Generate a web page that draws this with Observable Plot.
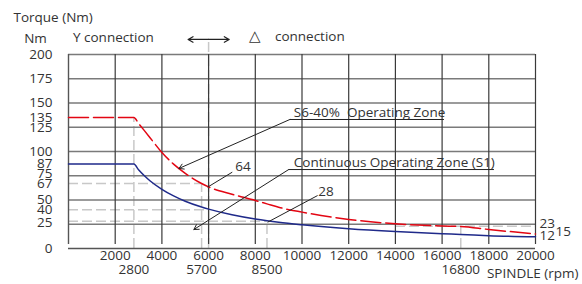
<!DOCTYPE html>
<html>
<head>
<meta charset="utf-8">
<script src="https://cdn.jsdelivr.net/npm/d3@7"></script>
<script src="https://cdn.jsdelivr.net/npm/@observablehq/plot@0.6"></script>
<style>
  html, body { margin: 0; padding: 0; background: #fff; }
  #chart svg { display: block; }
</style>
</head>
<body>
<div id="chart"></div>
<script>
// ---- data ----
const rpm        = [0, 2800, 3000, 3250, 3500, 4000, 4500, 5000, 5700, 6000, 7000, 8000, 8500, 9000, 10000, 12000, 14000, 16000, 16800, 18000, 20000];
const s6Torque   = [135, 135, 129, 121.5, 114, 99, 87, 77.5, 67, 63.5, 56, 49.5, 46, 42.5, 37.5, 30, 25.5, 23.2, 22.7, 19.6, 15];
const s1Torque   = [87, 87, 81.2, 75, 69.6, 61, 54.2, 48.7, 42.7, 40.6, 34.8, 30.4, 28.6, 27, 24.4, 20.3, 17.4, 15.2, 14.5, 13.2, 12];

const yTicks     = [0, 40, 50, 67, 87, 100, 125, 135, 150, 175, 200];
const yTicksUp   = [25, 75];
const yGrid      = [25, 50, 75, 100, 125, 150, 175, 200];
const xTicks     = [2000, 4000, 6000, 8000, 10000, 12000, 14000, 16000, 18000, 20000];
const xMarks     = [2800, 5700, 8500, 16800];

// reference (helper) lines, data coordinates
const refVx      = [2800, 5700, 6000, 8500, 16800];
const refVtop    = [135, 67, 216, 28, 23];
const refHy      = [67, 40, 28, 23];
const refHfrom   = [0, 0, 0, 14000];
const refHto     = [5700, 6000, 8500, 20000];

const curveData = rpm.map((r, i) => ({rpm: r, s6: s6Torque[i], s1: s1Torque[i]}));
const refV = refVx.map((x, i) => ({x, top: refVtop[i]}));
const refH = refHy.map((y, i) => ({y, from: refHfrom[i], to: refHto[i]}));

const ink = "#333";
const font = "'Open Sans', 'DejaVu Sans', sans-serif";
const fs = 13.5;

const chart = Plot.plot({
  width: 582,
  height: 284,
  marginLeft: 68,
  marginRight: 47,
  marginTop: 54,
  marginBottom: 36,
  style: {fontFamily: font, fontSize: fs + "px", color: ink, background: "#fff", overflow: "visible"},
  x: {domain: [0, 20000]},
  y: {domain: [0, 200]},
  marks: [
    // helper lines
    Plot.ruleX(refV, {x: "x", y1: 0, y2: "top", stroke: "#c8c8c8", strokeWidth: 1.5, strokeDasharray: "10,4"}),
    Plot.ruleY(refH, {y: "y", x1: "from", x2: "to", stroke: "#c8c8c8", strokeWidth: 1.5, strokeDasharray: "10,4"}),
    // grid
    Plot.ruleY(yGrid, {x1: 0, x2: 20000, stroke: "#7a7a7a", strokeWidth: 1.4}),
    Plot.ruleX(xTicks, {y1: 0, y2: 200, insetTop: -4, stroke: "#3a3a3a", strokeWidth: 1.2}),
    Plot.ruleX([0], {y1: 0, y2: 200, insetTop: -4, stroke: "#555", strokeWidth: 1.4}),
    Plot.ruleY([0], {x1: 0, x2: 20000, stroke: "#555", strokeWidth: 1.6}),
    // axes
    Plot.axisY({ticks: yTicks, tickSize: 0, tickPadding: 16, label: null, fontSize: fs}),
    Plot.axisY({ticks: yTicksUp, tickSize: 0, tickPadding: 16, label: null, fontSize: fs, dy: -2}),
    Plot.axisX({ticks: xTicks, tickSize: 0, tickPadding: 2, label: null, fontSize: fs, tickFormat: d => String(d)}),
    Plot.text(xMarks, {x: d => d, text: d => String(d), frameAnchor: "bottom", lineAnchor: "middle", dy: 21, fill: ink}),
    // curves
    Plot.line(curveData, {x: "rpm", y: "s1", stroke: "#1f2a8a", strokeWidth: 1.5, curve: "monotone-x"}),
    Plot.line(curveData, {x: "rpm", y: "s6", stroke: "#e30613", strokeWidth: 1.5, strokeDasharray: "20,5", curve: "monotone-x"}),
    // annotations: S6
    Plot.text([{x: 9650, y: 133, t: "S6-40%  Operating Zone"}], {x: "x", y: "y", text: "t", textAnchor: "start", dy: -7, fill: ink}),
    Plot.link([{x1: 9480, x2: 16080, y: 133}], {x1: "x1", x2: "x2", y1: "y", y2: "y", stroke: "#222", strokeWidth: 1}),
    Plot.arrow([{x1: 9480, y1: 133, x2: 4730, y2: 82.5}], {x1: "x1", y1: "y1", x2: "x2", y2: "y2", stroke: "#222", strokeWidth: 1, headLength: 8}),
    // annotations: S1
    Plot.text([{x: 9650, y: 81.4, t: "Continuous Operating Zone (S1)"}], {x: "x", y: "y", text: "t", textAnchor: "start", dy: -7, fill: ink}),
    Plot.link([{x1: 9430, x2: 18220, y: 81.4}], {x1: "x1", x2: "x2", y1: "y", y2: "y", stroke: "#222", strokeWidth: 1}),
    Plot.arrow([{x1: 9430, y1: 81.4, x2: 5370, y2: 19.6}], {x1: "x1", y1: "y1", x2: "x2", y2: "y2", stroke: "#222", strokeWidth: 1, headLength: 8}),
    // 64 and 28 callouts
    Plot.text([{x: 7470, y: 84, t: "64"}], {x: "x", y: "y", text: "t", fill: ink}),
    Plot.link([{x1: 7014, y1: 78.7, x2: 5955, y2: 63.2}], {x1: "x1", y1: "y1", x2: "x2", y2: "y2", stroke: "#222", strokeWidth: 1}),
    Plot.text([{x: 11030, y: 58.5, t: "28"}], {x: "x", y: "y", text: "t", fill: ink}),
    Plot.link([{x1: 10668, y1: 54.6, x2: 8526, y2: 27.1}], {x1: "x1", y1: "y1", x2: "x2", y2: "y2", stroke: "#222", strokeWidth: 1}),
    // right-side values
    Plot.text([{y: 23, t: "23"}], {x: 20000, y: "y", text: "t", textAnchor: "start", dx: 4, dy: -2.5, fill: ink}),
    Plot.text([{y: 12, t: "12"}], {x: 20000, y: "y", text: "t", textAnchor: "start", dx: 4, dy: -1, fill: ink}),
    Plot.text([{y: 15, t: "15"}], {x: 20000, y: "y", text: "t", textAnchor: "start", dx: 20, dy: -2, fill: ink}),
    // top connection labels
    Plot.text([{x: 3655, y: 217.5, t: "Y connection"}], {x: "x", y: "y", text: "t", textAnchor: "end", fill: ink}),
    Plot.text([{x: 7980, y: 218.5, t: "△"}], {x: "x", y: "y", text: "t", fill: ink, fontSize: 15}),
    Plot.text([{x: 8840, y: 218.5, t: "connection"}], {x: "x", y: "y", text: "t", textAnchor: "start", fill: ink}),
    Plot.arrow([{x1: 6000, x2: 5124, y: 215.5}, {x1: 6000, x2: 6881, y: 215.5}], {x1: "x1", x2: "x2", y1: "y", y2: "y", stroke: "#222", strokeWidth: 1.2, headLength: 7}),
    // frame-anchored titles
    Plot.text(["Torque (Nm)"], {frameAnchor: "top-left", lineAnchor: "middle", text: d => d, textAnchor: "start", dx: -55, dy: -37, fill: ink}),
    Plot.text(["Nm"], {frameAnchor: "top-left", lineAnchor: "middle", text: d => d, textAnchor: "middle", dx: -33, dy: -16, fill: ink}),
    Plot.text(["SPINDLE (rpm)"], {frameAnchor: "bottom-right", lineAnchor: "middle", text: d => d, textAnchor: "end", dx: 43, dy: 25, fill: ink})
  ]
});
document.getElementById("chart").appendChild(chart);
</script>
</body>
</html>
